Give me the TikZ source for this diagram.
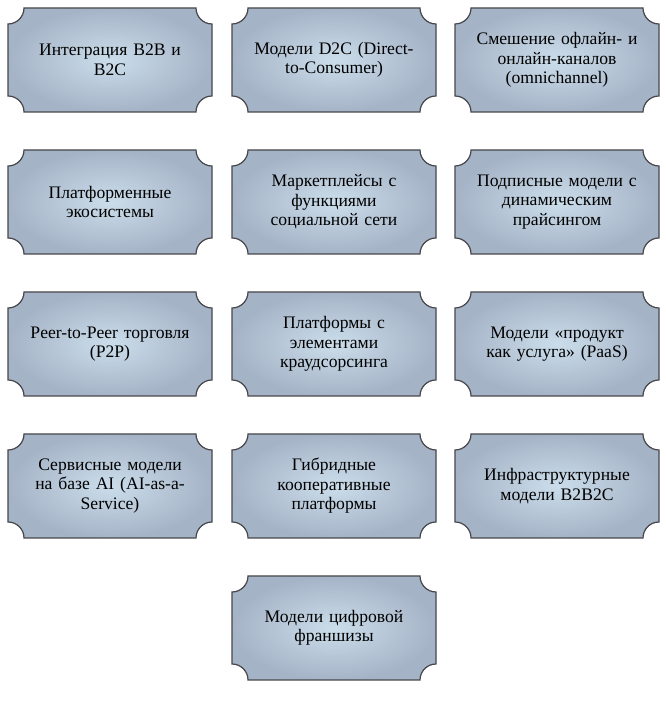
\documentclass[tikz,border=0pt]{standalone}
\usepackage{fontspec}
\setmainfont{Liberation Serif}
\definecolor{plaqueIn}{RGB}{203,221,235}
\definecolor{plaqueOut}{RGB}{165,179,198}
\definecolor{plaqueLine}{RGB}{70,70,75}
\tikzset{
  plaque/.style={draw=plaqueLine, line width=0.9pt, inner color=plaqueIn, outer color=plaqueOut},
  plaquetext/.style={align=center, text width=150pt, font=\fontsize{13.2}{14.6}\selectfont}
}
\newcommand{\plaquebox}[4]{% name, x, y (bottom left), text
  \draw[plaque] (#2+16,#3) -- (#2+188,#3) arc[start angle=180,end angle=90,radius=16]
    -- (#2+204,#3+88) arc[start angle=270,end angle=180,radius=16]
    -- (#2+16,#3+104) arc[start angle=0,end angle=-90,radius=16]
    -- (#2,#3+16) arc[start angle=90,end angle=0,radius=16] -- cycle;
  \node[plaquetext] (#1) at (#2+102,#3+52) {#4};
}
\begin{document}
\begin{tikzpicture}[x=0.75pt,y=0.75pt]
  \useasboundingbox (0,0) rectangle (665,705);
  % row 1
  \plaquebox{integr}{8}{593}{Интеграция B2B и\\B2C}
  \plaquebox{dtoc}{232}{593}{Модели D2C (Direct-\\to-Consumer)}
  \plaquebox{omni}{455}{593}{Смешение офлайн- и\\онлайн-каналов\\(omnichannel)}
  % row 2
  \plaquebox{ecosys}{8}{451}{Платформенные\\экосистемы}
  \plaquebox{market}{232}{451}{Маркетплейсы с\\функциями\\социальной сети}
  \plaquebox{subscr}{455}{451}{Подписные модели с\\динамическим\\прайсингом}
  % row 3
  \plaquebox{ptop}{8}{309}{Peer-to-Peer торговля\\(P2P)}
  \plaquebox{crowd}{232}{309}{Платформы с\\элементами\\краудсорсинга}
  \plaquebox{paas}{455}{309}{Модели «продукт\\как услуга» (PaaS)}
  % row 4
  \plaquebox{aiaas}{8}{167}{Сервисные модели\\на базе AI (AI-as-a-\\Service)}
  \plaquebox{hybrid}{232}{167}{Гибридные\\кооперативные\\платформы}
  \plaquebox{infra}{455}{167}{Инфраструктурные\\модели B2B2C}
  % row 5
  \plaquebox{franch}{232}{25}{Модели цифровой\\франшизы}
\end{tikzpicture}
\end{document}
